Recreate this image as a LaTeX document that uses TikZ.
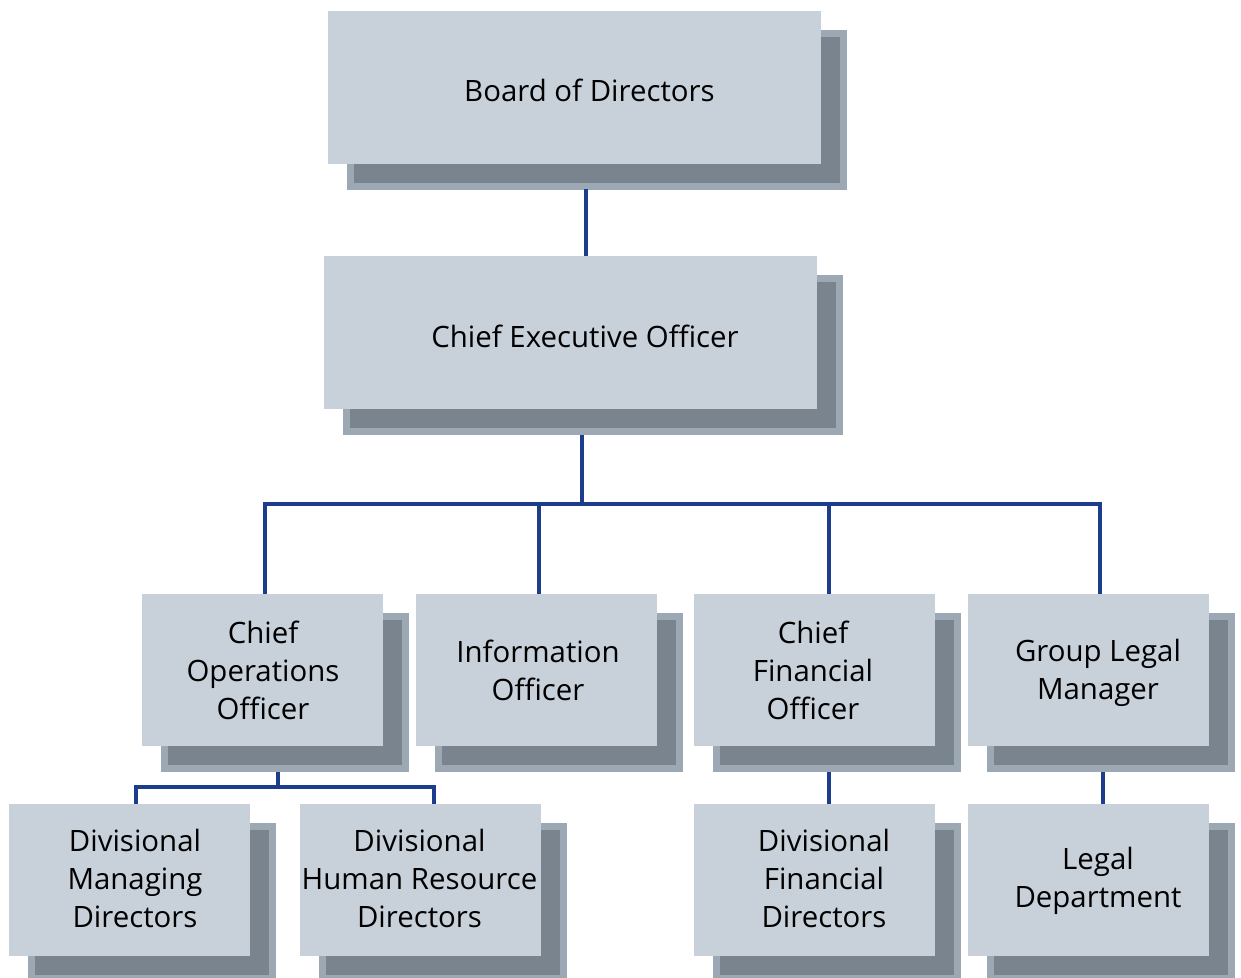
\documentclass[tikz,border=0pt]{standalone}
\usepackage{fontspec}
\setmainfont{Open Sans}
\usetikzlibrary{shadows, calc}

\definecolor{boxfill}{HTML}{C8D0DA}
\definecolor{shadowdark}{HTML}{79848E}
\definecolor{shadowrim}{HTML}{9CA8B4}
\definecolor{linkblue}{HTML}{1B3D8C}

\begin{document}
\begin{tikzpicture}[x=1pt, y=-1pt,
    unit/.style={rectangle, fill=boxfill, inner sep=0pt,
        minimum width=241pt, minimum height=152pt,
        general shadow={shadow xshift=22.5pt, shadow yshift=-22.5pt,
            fill=shadowdark, draw=shadowrim, line width=7pt}},
    wide/.style={unit, minimum width=493pt, minimum height=153pt},
    caption/.style={align=center, inner sep=0pt,
        font=\fontsize{29.4}{38}\selectfont},
    link/.style={draw=linkblue, line width=3.5pt}]
                \useasboundingbox (0,0) rectangle (1241,977);

                % TOP
                \node[wide] (board) at (574.5,87.5) {};
                \node[wide] (ceo) at (570.5,332.5) {};

                % OFFICERS
                \node[unit] (coo) at (262.5,670) {};
                \node[unit] (info) at (536.5,670) {};
                \node[unit] (cfo) at (814.5,670) {};
                \node[unit] (glm) at (1088.5,670) {};

                % DIRECTORS
                \node[unit] (dmd) at (129.5,880) {};
                \node[unit] (dhr) at (420.5,880) {};
                \node[unit] (dfd) at (814.5,880) {};
                \node[unit] (legal) at (1088.5,880) {};

                % TEXTS
                \node[caption] (board-t) at ([shift={(15,3)}]board.center) {Board of Directors};
                \node[caption] (ceo-t) at ([shift={(14.5,4)}]ceo.center) {Chief Executive Officer};
                \node[caption] (coo-t) at ([shift={(0.5,0)}]coo.center) {Chief\\Operations\\Officer};
                \node[caption] (info-t) at ([shift={(1.5,0)}]info.center) {Information\\Officer};
                \node[caption] (cfo-t) at ([shift={(-1.5,0)}]cfo.center) {Chief\\Financial\\Officer};
                \node[caption] (glm-t) at ([shift={(9.5,3)}]glm.center) {Group Legal\\Manager};
                \node[caption] (dmd-t) at ([shift={(5.5,-2)}]dmd.center) {Divisional\\Managing\\Directors};
                \node[caption] (dhr-t) at ([shift={(-1,-2)}]dhr.center) {Divisional\\Human Resource\\Directors};
                \node[caption] (dfd-t) at ([shift={(9.5,-2)}]dfd.center) {Divisional\\Financial\\Directors};
                \node[caption] (legal-t) at ([shift={(9.5,1)}]legal.center) {Legal\\Department};

                % CONNECTORS
                \coordinate (top bus) at (0,504);
                \coordinate (coo bus) at (0,787);

                \draw[link] ([xshift=11.5pt,yshift=-25pt]board.south) -- ([xshift=15.5pt]ceo.north);
                \draw[link] ([xshift=11.5pt,yshift=-26pt]ceo.south) -- ([xshift=11.5pt]ceo.south |- top bus);
                \draw[link] ([xshift=2.5pt]coo.north) |- ([xshift=11.5pt]glm.north |- top bus) -- ([xshift=11.5pt]glm.north);
                \draw[link] ([xshift=2.5pt]info.north) -- ([xshift=2.5pt]info.north |- top bus);
                \draw[link] ([xshift=14.5pt]cfo.north) -- ([xshift=14.5pt]cfo.north |- top bus);

                \draw[link] ([xshift=15.5pt,yshift=-26pt]coo.south) -- ([xshift=15.5pt]coo.south |- coo bus);
                \draw[link] ([xshift=6.5pt]dmd.north) |- ([xshift=13.5pt]dhr.north |- coo bus) -- ([xshift=13.5pt]dhr.north);
                \draw[link] ([xshift=14.5pt,yshift=-26pt]cfo.south) -- ([xshift=14.5pt]dfd.north);
                \draw[link] ([xshift=14.5pt,yshift=-26pt]glm.south) -- ([xshift=14.5pt]legal.north);

            \end{tikzpicture}
\end{document}
